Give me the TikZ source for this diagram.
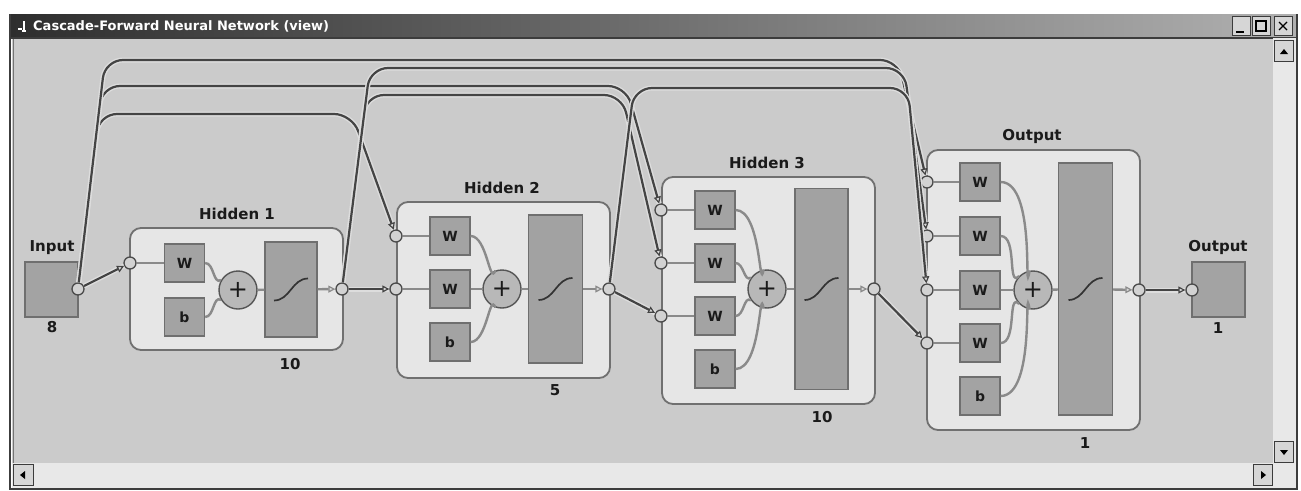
\documentclass[tikz,border=0pt]{standalone}
\usepackage{fontspec}
\setmainfont{DejaVu Sans}
\usetikzlibrary{arrows.meta}

\definecolor{canvas}{HTML}{CBCBCB}
\definecolor{panel}{HTML}{E6E6E6}
\definecolor{panelline}{HTML}{707070}
\definecolor{blockfill}{HTML}{A3A3A3}
\definecolor{blockline}{HTML}{6F6F6F}
\definecolor{tffill}{HTML}{A2A2A2}
\definecolor{sumfill}{HTML}{B8B8B8}
\definecolor{sumline}{HTML}{555555}
\definecolor{portfill}{HTML}{D2D2D2}
\definecolor{portline}{HTML}{4A4A4A}
\definecolor{innerwire}{HTML}{8A8A8A}
\definecolor{wirecol}{HTML}{444444}
\definecolor{halo}{HTML}{DDDDDD}
\definecolor{tipfill}{HTML}{D8D8D8}
\definecolor{txt}{HTML}{1A1A1A}
\definecolor{track}{HTML}{E8E8E8}
\definecolor{titledark}{HTML}{2E2E2E}
\definecolor{titlemid}{HTML}{6A6A6A}
\definecolor{titlelight}{HTML}{B0B0B0}
\definecolor{framedark}{HTML}{3C3C3C}
\definecolor{btnfill}{HTML}{D6D6D6}

\begin{document}
\begin{tikzpicture}[x=1pt,y=-1pt,
  lbl/.style={font=\bfseries\fontsize{15}{17}\selectfont, text=txt, inner sep=0pt},
  layerbox/.style={draw=panelline, fill=panel, line width=1.8pt, rounded corners=11pt, inner sep=0pt},
  wblock/.style={draw=blockline, fill=blockfill, line width=1.2pt, minimum width=40pt, minimum height=38pt, inner sep=0pt, text=txt, font=\bfseries\fontsize{14}{16}\selectfont},
  tfblock/.style={draw=blockline, fill=tffill, line width=1.2pt, inner sep=0pt},
  sumnode/.style={circle, draw=sumline, fill=sumfill, line width=1.4pt, minimum size=38pt, inner sep=0pt, font=\fontsize{24}{24}\selectfont, text=txt},
  port/.style={circle, draw=portline, fill=portfill, line width=1.3pt, minimum size=12pt, inner sep=0pt},
  iobox/.style={draw=blockline, fill=blockfill, line width=1.2pt, minimum width=53pt, minimum height=55pt, inner sep=0pt},
  innerlink/.style={draw=innerwire, line width=2.4pt},
  tip/.style={-{Triangle[open, length=7pt, width=7pt, fill=tipfill, line width=1.2pt]}},
  wire/.style={draw=wirecol, line width=2.2pt, rounded corners=18pt, tip,
    preaction={draw=halo, line width=5pt, arrows=-}},
  sigline/.style={draw=black!80, line width=1.7pt},
  sig/.pic={\draw[sigline] (-17,11) .. controls (-1,11) and (1,-11) .. (17,-11);},
  chromebtn/.style={draw=framedark, fill=btnfill, line width=1pt, inner sep=0pt},
]
\useasboundingbox (0,0) rectangle (1301,490);
\fill[white] (0,0) rectangle (1301,490);

% window frame, title bar and scroll bars
\fill[canvas] (12,38) rectangle (1273,463);
\shade[left color=titledark, middle color=titlemid, right color=titlelight] (11,14) rectangle (1296,38);
\draw[framedark, line width=1.5pt] (11,38) -- (1296,38);
\node[anchor=west, text=white, font=\bfseries\fontsize{13}{15}\selectfont, inner sep=0pt] (title) at (33,26) {Cascade-Forward Neural Network (view)};
\draw[white, line width=1.3pt] (18,29) -- (22,29) (24,21) -- (24,31) (22,31) -- (26,31);
\node[chromebtn, minimum width=18pt, minimum height=19pt] (bmin) at (1241,26) {};
\node[chromebtn, minimum width=18pt, minimum height=19pt] (bmax) at (1261,26) {};
\node[chromebtn, minimum width=18pt, minimum height=19pt] (bclose) at (1283,26) {};
\draw[black, line width=1.6pt] (1236,32) -- (1244,32);
\draw[black, line width=1.2pt] (1256,21) rectangle (1266,31);
\draw[black, line width=1.3pt] (1279,22) -- (1287,30) (1279,30) -- (1287,22);

\fill[track] (1273,38) rectangle (1296,488);
\fill[track] (12,463) rectangle (1273,488);
\node[chromebtn, minimum width=19pt, minimum height=21pt] (sup) at (1284,51) {};
\fill[black] (1280,54) -- (1288,54) -- (1284,49) -- cycle;
\node[chromebtn, minimum width=19pt, minimum height=21pt] (sdown) at (1284,452) {};
\fill[black] (1280,450) -- (1288,450) -- (1284,455) -- cycle;
\node[chromebtn, minimum width=20pt, minimum height=21pt] (sleft) at (23,475) {};
\fill[black] (25,471) -- (25,479) -- (20,475) -- cycle;
\node[chromebtn, minimum width=19pt, minimum height=21pt] (sright) at (1263,475) {};
\fill[black] (1261,471) -- (1261,479) -- (1266,475) -- cycle;
\draw[framedark, line width=2pt] (10,14) -- (10,489) -- (1297,489) -- (1297,14);
\draw[black!55, line width=1pt] (13,39) -- (13,463);

% input
\node[iobox] (inbox) at (51.5,289.5) {};
\node[lbl] (inlbl) at (52,248) {Input};
\node[lbl] (insz) at (52,327) {8};
\node[port] (inp) at (78,289) {};

% Hidden 1
\node[layerbox, minimum width=213pt, minimum height=122pt] (L1) at (236.5,289) {};
\node[lbl] (L1t) at (237,214) {Hidden 1};
\node[lbl] (L1n) at (290,364) {10};
\node[port] (L1i) at (130,263) {};
\node[wblock] (L1w) at (184.5,263) {W};
\node[wblock] (L1b) at (184.5,317) {b};
\node[sumnode] (L1s) at (238,290) {+};
\node[tfblock, minimum width=52pt, minimum height=95pt] (L1f) at (291,289.5) {};
\pic at (L1f.center) {sig};
\node[port] (L1o) at (342,289) {};
\draw[innerlink] (L1i) -- (L1w);
\draw[innerlink] (L1w.east) to[out=0,in=-150] (L1s.150);
\draw[innerlink] (L1b.east) to[out=0,in=150] (L1s.210);
\draw[innerlink] (L1s) -- (L1f);
\draw[innerlink, tip] (L1f) -- (L1o);

% Hidden 2
\node[layerbox, minimum width=213pt, minimum height=176pt] (L2) at (503.5,290) {};
\node[lbl] (L2t) at (502,188) {Hidden 2};
\node[lbl] (L2n) at (555,390) {5};
\node[port] (L2i1) at (396,236) {};
\node[port] (L2i2) at (396,289) {};
\node[wblock] (L2w1) at (450,236) {W};
\node[wblock] (L2w2) at (450,289) {W};
\node[wblock] (L2b) at (450,342) {b};
\node[sumnode] (L2s) at (502,289) {+};
\node[tfblock, minimum width=54pt, minimum height=148pt] (L2f) at (555.5,289) {};
\pic at (L2f.center) {sig};
\node[port] (L2o) at (609,289) {};
\draw[innerlink] (L2i1) -- (L2w1);
\draw[innerlink] (L2i2) -- (L2w2);
\draw[innerlink] (L2w1.east) to[out=0,in=-110] (L2s.110);
\draw[innerlink] (L2w2) -- (L2s);
\draw[innerlink] (L2b.east) to[out=0,in=110] (L2s.250);
\draw[innerlink] (L2s) -- (L2f);
\draw[innerlink, tip] (L2f) -- (L2o);

% Hidden 3
\node[layerbox, minimum width=213pt, minimum height=227pt] (L3) at (768.5,290.5) {};
\node[lbl] (L3t) at (767,163) {Hidden 3};
\node[lbl] (L3n) at (822,417) {10};
\node[port] (L3i1) at (661,210) {};
\node[port] (L3i2) at (661,263) {};
\node[port] (L3i3) at (661,316) {};
\node[wblock] (L3w1) at (715,210) {W};
\node[wblock] (L3w2) at (715,263) {W};
\node[wblock] (L3w3) at (715,316) {W};
\node[wblock] (L3b) at (715,369) {b};
\node[sumnode] (L3s) at (767,289) {+};
\node[tfblock, minimum width=53pt, minimum height=201pt] (L3f) at (821.5,289) {};
\pic at (L3f.center) {sig};
\node[port] (L3o) at (874,289) {};
\draw[innerlink] (L3i1) -- (L3w1);
\draw[innerlink] (L3i2) -- (L3w2);
\draw[innerlink] (L3i3) -- (L3w3);
\draw[innerlink] (L3w1.east) to[out=0,in=-100] (L3s.100);
\draw[innerlink] (L3w2.east) to[out=0,in=-145] (L3s.145);
\draw[innerlink] (L3w3.east) to[out=0,in=145] (L3s.215);
\draw[innerlink] (L3b.east) to[out=0,in=100] (L3s.260);
\draw[innerlink] (L3s) -- (L3f);
\draw[innerlink, tip] (L3f) -- (L3o);

% Output layer
\node[layerbox, minimum width=213pt, minimum height=280pt] (L4) at (1033.5,290) {};
\node[lbl] (L4t) at (1032,136) {Output};
\node[lbl] (L4n) at (1085,443) {1};
\node[port] (L4i1) at (927,182) {};
\node[port] (L4i2) at (927,236) {};
\node[port] (L4i3) at (927,290) {};
\node[port] (L4i4) at (927,343) {};
\node[wblock] (L4w1) at (980,182) {W};
\node[wblock] (L4w2) at (980,236) {W};
\node[wblock] (L4w3) at (980,290) {W};
\node[wblock] (L4w4) at (980,343) {W};
\node[wblock] (L4b) at (980,396) {b};
\node[sumnode] (L4s) at (1033,290) {+};
\node[tfblock, minimum width=54pt, minimum height=252pt] (L4f) at (1085.5,289) {};
\pic at (L4f.center) {sig};
\node[port] (L4o) at (1139,290) {};
\draw[innerlink] (L4i1) -- (L4w1);
\draw[innerlink] (L4i2) -- (L4w2);
\draw[innerlink] (L4i3) -- (L4w3);
\draw[innerlink] (L4i4) -- (L4w4);
\draw[innerlink] (L4w1.east) to[out=0,in=-100] (L4s.100);
\draw[innerlink] (L4w2.east) to[out=0,in=-135] (L4s.135);
\draw[innerlink] (L4w3) -- (L4s);
\draw[innerlink] (L4w4.east) to[out=0,in=135] (L4s.225);
\draw[innerlink] (L4b.east) to[out=0,in=100] (L4s.260);
\draw[innerlink] (L4s) -- (L4f);
\draw[innerlink, tip] (L4f) -- (L4o);

% network output
\node[iobox] (outbox) at (1218.5,289.5) {};
\node[lbl] (outlbl) at (1218,247) {Output};
\node[lbl] (outsz) at (1218,328) {1};
\node[port] (outp) at (1192,290) {};

% cascade connections
\draw[wire] (inp) -- (L1i);
\draw[wire] (inp) -- (99,114) -- (352,114) -- (L2i1);
\draw[wire] (inp) -- (102,86) -- (626,86) -- (L3i1);
\draw[wire] (inp) -- (105,60) -- (898,60) -- (L4i1);
\draw[wire] (L1o) -- (L2i2);
\draw[wire] (L1o) -- (366,95) -- (622,95) -- (L3i2);
\draw[wire] (L1o) -- (370,68) -- (904,68) -- (L4i2);
\draw[wire] (L2o) -- (L3i3);
\draw[wire] (L2o) -- (634,88) -- (908,88) -- (L4i3);
\draw[wire] (L3o) -- (L4i4);
\draw[wire] (L4o) -- (outp);
\end{tikzpicture}
\end{document}
